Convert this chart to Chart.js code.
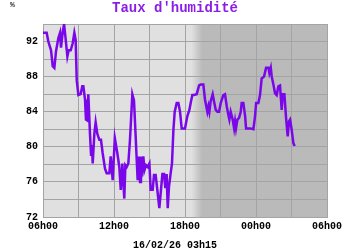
<!DOCTYPE html>
<html>
<head>
<meta charset="utf-8">
<script src="https://cdn.jsdelivr.net/npm/chart.js@4/dist/chart.umd.min.js"></script>
<style>
    html, body { margin: 0; padding: 0; background: #ffffff; }
    #wrap { width: 350px; height: 250px; }
</style>
</head>
<body>
<div id="wrap"><canvas id="chart"></canvas></div>
<script>
// hours since 06h00 on 16/02
const hours = [
    0.00, 0.31, 0.45, 0.68, 0.82, 0.96, 1.10, 1.30, 1.44, 1.52, 1.66, 1.78, 1.89, 2.06, 2.17, 2.34,
    2.51, 2.65, 2.76, 2.85, 2.99, 3.18, 3.32, 3.41, 3.55, 3.63, 3.75, 3.83, 3.97, 4.06, 4.14, 4.20,
    4.34, 4.45, 4.59, 4.76, 4.90, 5.04, 5.24, 5.38, 5.61, 5.72, 5.89, 6.07, 6.28, 6.45, 6.57, 6.71,
    6.79, 6.87, 6.96, 7.07, 7.21, 7.35, 7.44, 7.55, 7.69, 7.83, 7.92, 8.00, 8.11, 8.20, 8.28, 8.40,
    8.48, 8.57, 8.71, 8.85, 8.99, 9.10, 9.27, 9.38, 9.52, 9.66, 9.83, 9.97, 10.09, 10.23, 10.34, 10.45,
    10.54, 10.65, 10.79, 10.90, 11.02, 11.13, 11.30, 11.44, 11.58, 11.72, 12.00, 12.20, 12.37, 12.48, 12.62, 12.76,
    12.99, 13.19, 13.33, 13.55, 13.69, 13.89, 13.98, 14.06, 14.17, 14.34, 14.45, 14.60, 14.74, 14.88, 15.02, 15.24,
    15.38, 15.53, 15.67, 15.75, 15.86, 16.03, 16.15, 16.23, 16.31, 16.43, 16.57, 16.71, 16.79, 16.93, 17.08, 17.16,
    17.50, 17.78, 17.92, 18.01, 18.20, 18.34, 18.48, 18.68, 18.85, 19.05, 19.13, 19.25, 19.33, 19.47, 19.61, 19.75,
    19.89, 20.03, 20.17, 20.26, 20.40, 20.54, 20.68, 20.79, 20.88, 21.02, 21.16, 21.27
];

const humidity = [
    93.0, 93.0, 92.0, 91.0, 89.2, 89.0, 90.9, 92.4, 93.0, 91.3, 93.0, 94.0, 92.6, 90.3, 91.0, 91.0,
    91.8, 93.0, 92.2, 87.6, 85.9, 86.0, 86.9, 86.9, 85.4, 83.1, 83.0, 86.0, 81.5, 79.1, 80.2, 78.1,
    81.5, 82.8, 81.5, 80.8, 80.8, 79.3, 77.5, 77.0, 77.0, 78.9, 76.2, 81.0, 79.3, 77.7, 75.1, 78.1,
    76.0, 74.1, 77.9, 77.7, 78.1, 80.8, 83.1, 86.0, 85.3, 81.2, 78.5, 76.2, 78.9, 76.0, 78.9, 77.7,
    78.9, 77.3, 77.9, 77.7, 78.1, 75.1, 75.1, 76.8, 76.8, 75.1, 73.0, 75.1, 76.9, 76.9, 75.3, 76.9,
    73.0, 75.5, 77.0, 78.1, 81.9, 84.0, 85.0, 85.0, 84.0, 82.1, 82.1, 83.5, 84.2, 85.0, 85.9, 85.9,
    86.0, 87.0, 87.1, 87.1, 85.4, 84.0, 84.6, 84.0, 85.2, 86.0, 85.2, 84.2, 84.0, 84.0, 85.0, 85.9,
    86.0, 84.6, 83.6, 83.1, 84.0, 83.1, 82.1, 82.9, 82.1, 83.1, 83.3, 84.0, 85.0, 85.0, 83.5, 82.1,
    82.1, 82.0, 83.5, 85.0, 85.0, 85.9, 87.8, 88.0, 89.0, 89.0, 88.4, 89.0, 88.0, 87.1, 86.1, 85.9,
    86.9, 87.0, 84.2, 86.0, 86.0, 83.3, 81.2, 82.9, 83.1, 81.9, 80.4, 80.1
];

const startHour = 6;
const yLabels = [72, 76, 80, 84, 88, 92];

// night shading, in hours since 06h00
const nightFrom = 12.55;
const nightTo = 13.45;

const FONT = "'Liberation Mono', 'DejaVu Sans Mono', monospace";

function hourLabel(value) {
    const h = (startHour + value) % 24;
    return String(h).padStart(2, '0') + 'h00';
}

const background = {
    id: 'background',
    beforeDraw(chart) {
        const { ctx, chartArea } = chart;
        const x = chart.scales.x;
        const x1 = x.getPixelForValue(nightFrom);
        const x2 = x.getPixelForValue(nightTo);

        ctx.save();
        ctx.fillStyle = '#e0e0e0';
        ctx.fillRect(chartArea.left, chartArea.top, chartArea.width, chartArea.height);

        const grad = ctx.createLinearGradient(x1, 0, x2, 0);
        grad.addColorStop(0, '#e0e0e0');
        grad.addColorStop(1, '#bababa');
        ctx.fillStyle = grad;
        ctx.fillRect(x1, chartArea.top, chartArea.right - x1, chartArea.height);
        ctx.restore();
    },
    afterDraw(chart) {
        const { ctx } = chart;
        ctx.save();
        ctx.fillStyle = '#333333';
        ctx.font = 'bold 8px ' + FONT;
        ctx.textAlign = 'left';
        ctx.textBaseline = 'middle';
        ctx.fillText('%', 10, 5);
        ctx.restore();
    },
};

new Chart(document.getElementById('chart'), {
    type: 'line',
    data: {
        datasets: [{
            data: hours.map((h, i) => ({ x: h, y: humidity[i] })),
            borderColor: '#7a06ea',
            borderWidth: 2.5,
            pointRadius: 0,
            tension: 0,
            fill: false,
        }],
    },
    options: {
        responsive: true,
        maintainAspectRatio: false,
        animation: false,
        layout: {
            padding: 0,
        },
        plugins: {
            legend: { display: false },
            tooltip: { enabled: false },
            title: {
                display: true,
                text: "Taux d'humidité",
                color: '#8a1ee8',
                font: { family: FONT, size: 14, weight: 'bold', lineHeight: 1 },
                padding: { top: 1, bottom: 9 },
            },
            subtitle: {
                display: true,
                position: 'bottom',
                text: '16/02/26 03h15',
                color: '#000000',
                font: { family: FONT, size: 10, weight: 'bold', lineHeight: 1 },
                padding: { top: 1, bottom: 0 },
            },
        },
        scales: {
            x: {
                type: 'linear',
                min: 0,
                max: 24,
                afterFit(scale) {
                    scale.height = 22;
                },
                grid: {
                    color: '#a4a4a4',
                    drawTicks: false,
                },
                border: { color: '#a4a4a4' },
                ticks: {
                    stepSize: 3,
                    autoSkip: false,
                    maxRotation: 0,
                    padding: 3,
                    color: '#000000',
                    font: { family: FONT, size: 10, weight: 'bold' },
                    callback: (value) => (value % 6 === 0 ? hourLabel(value) : ''),
                },
            },
            y: {
                min: 72,
                max: 94,
                afterFit(scale) {
                    scale.width = 43;
                },
                grid: {
                    color: '#a4a4a4',
                    drawTicks: false,
                },
                border: { color: '#a4a4a4' },
                ticks: {
                    stepSize: 2,
                    autoSkip: false,
                    padding: 5,
                    color: '#000000',
                    font: { family: FONT, size: 10, weight: 'bold' },
                    callback: (value) => (yLabels.includes(value) ? String(value) : ''),
                },
            },
            // empty right margin, so the titles stay centred on the canvas
            yRight: {
                position: 'right',
                display: true,
                min: 72,
                max: 94,
                afterFit(scale) {
                    scale.width = 23;
                },
                grid: { display: false, drawTicks: false },
                border: { display: false },
                ticks: { display: false },
            },
        },
    },
    plugins: [background],
});
</script>
</body>
</html>
